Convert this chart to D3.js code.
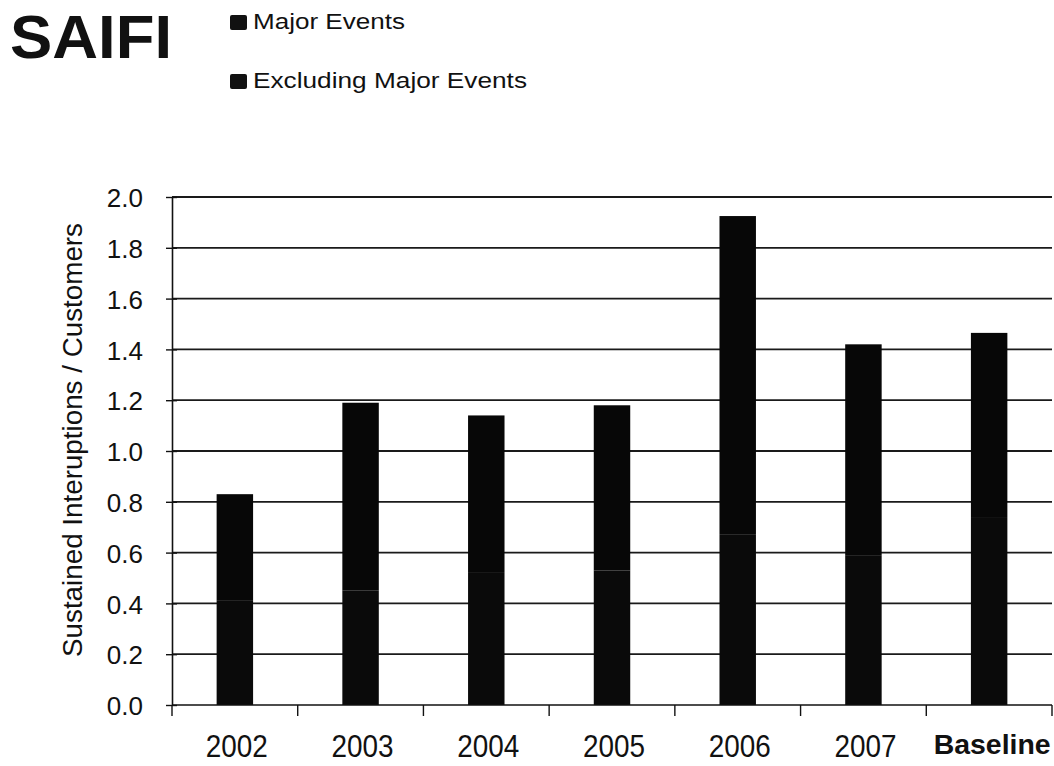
<!DOCTYPE html>
<html>
<head>
<meta charset="utf-8">
<script src="https://cdn.jsdelivr.net/npm/d3@7"></script>
<style>
  html, body { margin: 0; padding: 0; background: #fff; }
  svg { display: block; font-family: "Liberation Sans", Arial, sans-serif; }
</style>
</head>
<body>
<svg id="chart" width="1054" height="766"></svg>
<script>
// SAIFI by year: part excluding major events plus the major-event part on top
const categories = ["2002", "2003", "2004", "2005", "2006", "2007", "Baseline"];
const excludingMajor = [0.41, 0.45, 0.52, 0.53, 0.67, 0.59, 0.74];
const totalWithMajor = [0.83, 1.19, 1.14, 1.18, 1.925, 1.42, 1.465];
const majorEvents = totalWithMajor.map((t, i) => +(t - excludingMajor[i]).toFixed(3));
const yTicks = [0, 0.2, 0.4, 0.6, 0.8, 1.0, 1.2, 1.4, 1.6, 1.8, 2.0];
const seriesNames = ["Excluding Major Events", "Major Events"];
const legendItems = ["Major Events", "Excluding Major Events"];

const rows = categories.map((c, i) => ({
  cat: c,
  "Excluding Major Events": excludingMajor[i],
  "Major Events": majorEvents[i]
}));

const ink = "#111";
const svg = d3.select("#chart");
const m = { left: 172, right: 1052, top: 197, bottom: 705 };

const xTickScale = d3.scaleBand().domain(categories).range([m.left, m.right]);
const x = d3.scaleBand().domain(categories).range([m.left, m.right]).paddingInner(0.71).paddingOuter(0.355);
const y = d3.scaleLinear().domain([0, 2]).range([m.bottom, m.top]);

// horizontal gridlines
svg.append("g")
  .selectAll("line")
  .data(yTicks.slice(1))
  .join("line")
  .attr("x1", m.left).attr("x2", m.right)
  .attr("y1", d => y(d)).attr("y2", d => y(d))
  .attr("stroke", "#1a1a1a").attr("stroke-width", 1.8);

// stacked bars
const stack = d3.stack().keys(seriesNames)(rows);
const fills = { "Excluding Major Events": "#0a0a0a", "Major Events": "#070707" };
svg.append("g")
  .selectAll("g")
  .data(stack)
  .join("g")
  .attr("fill", d => fills[d.key])
  .selectAll("rect")
  .data(d => d)
  .join("rect")
  .attr("x", d => x(d.data.cat))
  .attr("width", x.bandwidth())
  .attr("y", d => y(d[1]))
  .attr("height", d => y(d[0]) - y(d[1]));

// y axis: ticks cross the axis line
const yAxis = svg.append("g").attr("transform", `translate(${m.left},0)`)
  .call(d3.axisLeft(y).tickValues(yTicks).tickFormat(d3.format(".1f")).tickSize(0).tickPadding(29));
yAxis.select(".domain").attr("stroke", ink).attr("stroke-width", 1.6);
yAxis.selectAll(".tick text")
  .attr("font-family", "Liberation Sans, Arial, sans-serif")
  .attr("font-size", 26).attr("fill", ink).attr("dy", "0.37em");
yAxis.selectAll(".tick").append("line")
  .attr("x1", -6).attr("x2", 5).attr("stroke", ink).attr("stroke-width", 1.4);

// x axis
const xAxis = svg.append("g").attr("transform", `translate(0,${m.bottom})`);
xAxis.append("line").attr("x1", m.left).attr("x2", m.right).attr("stroke", ink).attr("stroke-width", 1.6);
const edges = categories.map(c => xTickScale(c)).concat([m.right]);
xAxis.selectAll(".xt").data(edges).join("line")
  .attr("class", "xt")
  .attr("x1", d => d).attr("x2", d => d)
  .attr("y1", 0).attr("y2", 11)
  .attr("stroke", ink).attr("stroke-width", 1.4);
xAxis.selectAll("text").data(categories).join("text")
  .attr("x", d => xTickScale(d) + xTickScale.bandwidth() / 2 + (d === "Baseline" ? 3 : 2))
  .attr("y", d => d === "Baseline" ? 49 : 52)
  .attr("text-anchor", "middle")
  .attr("font-size", d => d === "Baseline" ? 28 : 31)
  .attr("font-weight", d => d === "Baseline" ? "bold" : "normal")
  .attr("textLength", d => d === "Baseline" ? 117 : 62)
  .attr("lengthAdjust", "spacingAndGlyphs")
  .attr("fill", ink)
  .text(d => d);

// y axis title
svg.append("text")
  .attr("transform", `translate(82,440) rotate(-90)`)
  .attr("text-anchor", "middle")
  .attr("font-size", 27)
  .attr("textLength", 434)
  .attr("lengthAdjust", "spacingAndGlyphs")
  .attr("fill", ink)
  .text("Sustained Interuptions / Customers");

// title
svg.append("text")
  .attr("x", 10).attr("y", 58)
  .attr("font-size", 61).attr("font-weight", "bold").attr("fill", ink)
  .attr("textLength", 162)
  .attr("lengthAdjust", "spacingAndGlyphs")
  .text("SAIFI");

// legend
const legendWidths = { "Major Events": 152, "Excluding Major Events": 274 };
const lg = svg.append("g").selectAll("g").data(legendItems).join("g")
  .attr("transform", (d, i) => `translate(230,${29 + i * 59})`);
lg.append("rect").attr("x", 0).attr("y", -14).attr("width", 17).attr("height", 15).attr("rx", 2).attr("fill", ink);
lg.append("text").attr("x", 23).attr("y", 0)
  .attr("font-size", 22).attr("fill", ink)
  .attr("textLength", d => legendWidths[d])
  .attr("lengthAdjust", "spacingAndGlyphs")
  .text(d => d);
</script>
</body>
</html>
